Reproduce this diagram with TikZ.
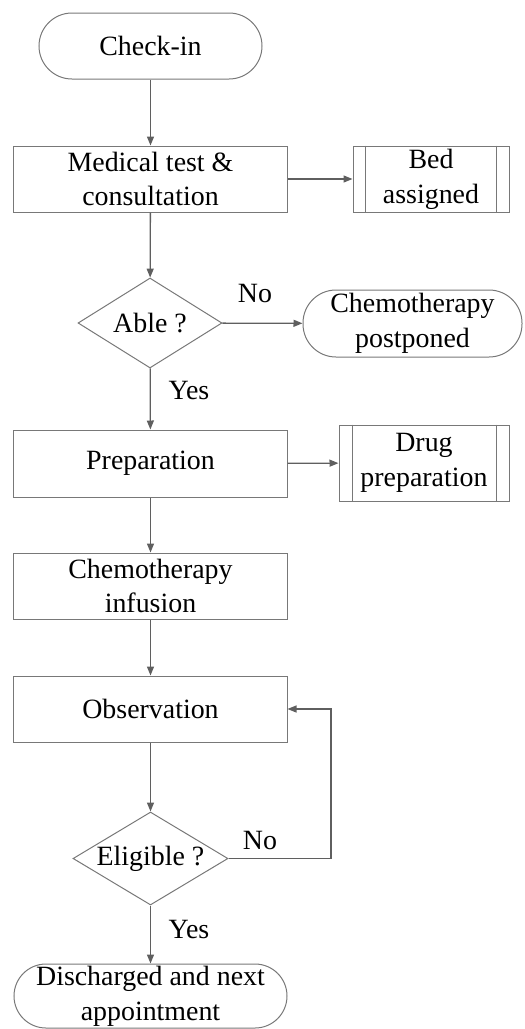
\documentclass[tikz,border=0pt]{standalone}
\usepackage{fontspec}
\setmainfont{Liberation Serif}
\usetikzlibrary{shapes.geometric,arrows.meta}
\definecolor{edgegray}{RGB}{120,120,120}
\definecolor{linegray}{RGB}{95,95,95}
\tikzset{
  base/.style={draw=edgegray, line width=1bp, align=center, inner sep=0pt,
    font=\fontsize{28}{35}\selectfont, text=black},
  procbox/.style={base, rectangle, minimum width=273bp, minimum height=66bp},
  termbox/.style={base, rectangle, rounded corners=33bp},
  subbox/.style={base, rectangle},
  decbox/.style={base, diamond},
  conn/.style={draw=linegray, line width=1.3bp, -{Triangle[length=9bp,width=7bp]}},
  lbl/.style={font=\fontsize{28}{35}\selectfont, text=black, inner sep=0pt}
}
\begin{document}
\begin{tikzpicture}[x=1bp,y=-1bp]
\useasboundingbox (0,0) rectangle (525,1029);
% nodes
\node[termbox, minimum width=223bp, minimum height=66bp] (checkin) at (150.5,46) {Check-in};
\node[procbox] (med) at (150.5,179) {Medical test \&\\consultation};
\node[subbox, minimum width=156bp, minimum height=66bp] (bed) at (431,179) {Bed\\assigned};
\draw[draw=edgegray, line width=1bp] ([xshift=13bp]bed.north west) -- ([xshift=13bp]bed.south west)
  ([xshift=-13bp]bed.north east) -- ([xshift=-13bp]bed.south east);
\node[decbox, minimum width=144bp, minimum height=90bp] (able) at (150,323) {\makebox[0pt]{Able ?}};
\node[termbox, minimum width=219bp, minimum height=67bp] (post) at (412.5,323.5) {Chemotherapy\\postponed};
\node[procbox, minimum height=67bp] (prep) at (150.5,463.5) {Preparation};
\node[subbox, minimum width=170bp, minimum height=76bp] (drug) at (424,463) {Drug\\preparation};
\draw[draw=edgegray, line width=1bp] ([xshift=14bp]drug.north west) -- ([xshift=14bp]drug.south west)
  ([xshift=-13bp]drug.north east) -- ([xshift=-13bp]drug.south east);
\node[procbox] (chemo) at (150.5,586) {Chemotherapy\\infusion};
\node[procbox] (obs) at (150.5,709) {Observation};
\node[decbox, minimum width=155bp, minimum height=93bp] (elig) at (150.5,858.5) {\makebox[0pt]{Eligible ?}};
\node[termbox, minimum width=273bp, minimum height=64bp, rounded corners=32bp] (dis) at (150.5,996) {Discharged and next\\appointment};
\coordinate (loop) at (331,858.5);
% connectors
\draw[conn] (checkin) -- (med);
\draw[conn] (med.east |- bed.west) -- (bed.west);
\draw[conn] (med) -- (able);
\draw[conn] (able) -- (post);
\draw[conn] (able) -- (prep);
\draw[conn] (prep) -- (drug);
\draw[conn] (prep) -- (chemo);
\draw[conn] (chemo) -- (obs);
\draw[conn] (obs) -- (elig);
\draw[conn] (elig.east) -- (loop) |- (obs.east);
\draw[conn] (elig) -- (dis);
% labels
\node[lbl] (no1) at (255,293) {No};
\node[lbl] (yes1) at (189,390) {Yes};
\node[lbl] (no2) at (260,840) {No};
\node[lbl] (yes2) at (189,929) {Yes};
\end{tikzpicture}
\end{document}
